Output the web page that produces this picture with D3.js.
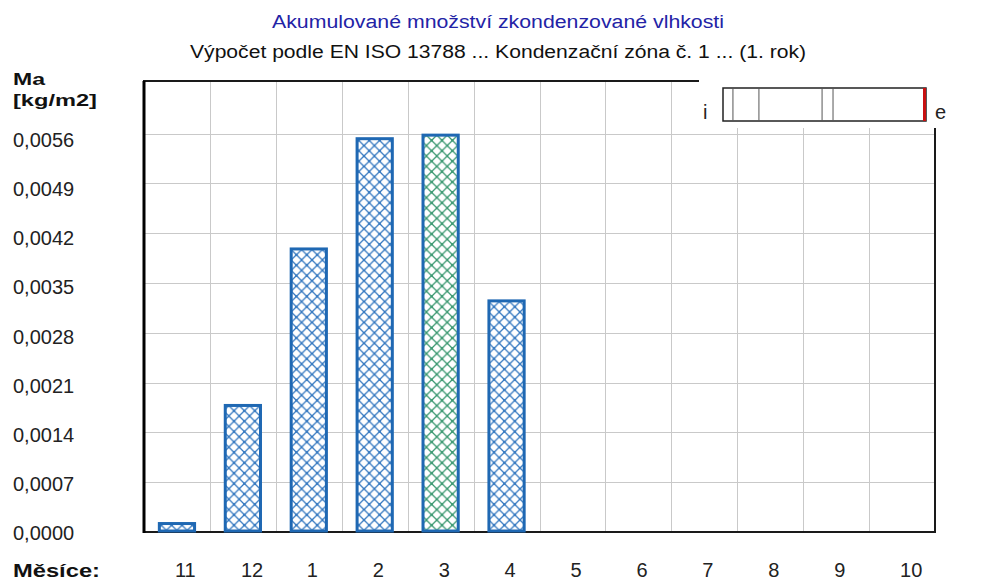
<!DOCTYPE html>
<html>
<head>
<meta charset="utf-8">
<script src="https://cdn.jsdelivr.net/npm/d3@7"></script>
<style>
  body { margin: 0; background: #fff; }
  text { font-family: "Liberation Sans", Arial, sans-serif; }
</style>
</head>
<body>
<svg id="chart" width="994" height="587"></svg>
<script>
// Accumulated condensed moisture per month (kg/m2), condensation zone 1, year 1
const months = ['11', '12', '1', '2', '3', '4', '5', '6', '7', '8', '9', '10'];
const moisture = [0.00014, 0.0018, 0.0040, 0.00555, 0.0056, 0.00327, 0, 0, 0, 0, 0, 0];
const yTicks = [0, 0.0007, 0.0014, 0.0021, 0.0028, 0.0035, 0.0042, 0.0049, 0.0056];
const yMax = 0.00634;

const chartTitle = 'Akumulované množství zkondenzované vlhkosti';
const chartSubtitle = 'Výpočet podle EN ISO 13788 ... Kondenzační zóna č. 1 ... (1. rok)';
const yAxisName = 'Ma';
const yAxisUnit = '[kg/m2]';
const xAxisName = 'Měsíce:';

const data = months.map((m, i) => ({ month: m, value: moisture[i] }));
const peak = d3.max(moisture);

const plot = { left: 144, right: 935, top: 81, bottom: 532 };
const svg = d3.select('#chart');

const x = d3.scaleBand()
  .domain(months)
  .range([plot.left, plot.right])
  .paddingInner(0.42)
  .paddingOuter(0.21);
const step = x.step();

const y = d3.scaleLinear().domain([0, yMax]).range([plot.bottom, plot.top]);
// label baselines sit slightly lower than their grid lines, more so toward the top
const yLabel = d3.scaleLinear().domain([0, 0.0056]).range([540, 147]);

const czech = d3.formatLocale({ decimal: ',', thousands: ' ', grouping: [3], currency: ['', ' Kč'] });
const fmt = czech.format('.4f');

// cross-hatch fills
const defs = svg.append('defs');
function hatch(id, color) {
  const P = 10.4;
  const p = defs.append('pattern')
    .attr('id', id)
    .attr('patternUnits', 'userSpaceOnUse')
    .attr('width', P).attr('height', P);
  p.append('rect').attr('width', P).attr('height', P).attr('fill', '#fff');
  p.append('path')
    .attr('d', `M0,0L${P},${P}M${P},0L0,${P}`)
    .attr('stroke', color).attr('stroke-width', 1.3).attr('fill', 'none');
  [[P / 2, P / 2], [0, 0], [P, 0], [0, P], [P, P]].forEach(([cx, cy]) =>
    p.append('circle').attr('cx', cx).attr('cy', cy).attr('r', 1.2).attr('fill', color));
}
hatch('hatchBlue', '#3478c0');
hatch('hatchGreen', '#3a9870');

// titles
svg.append('text')
  .attr('x', 498).attr('y', 28)
  .attr('text-anchor', 'middle')
  .attr('font-size', 18)
  .attr('fill', '#2323a6')
  .attr('textLength', 452).attr('lengthAdjust', 'spacingAndGlyphs')
  .text(chartTitle);
svg.append('text')
  .attr('x', 498).attr('y', 58)
  .attr('text-anchor', 'middle')
  .attr('font-size', 18)
  .attr('fill', '#111')
  .attr('textLength', 616).attr('lengthAdjust', 'spacingAndGlyphs')
  .text(chartSubtitle);

// grid
const grid = svg.append('g').attr('stroke', '#c9c9c9').attr('stroke-width', 1);
grid.selectAll('line.h')
  .data(yTicks.filter(t => t > 0))
  .join('line')
  .attr('x1', plot.left).attr('x2', plot.right)
  .attr('y1', d => Math.round(y(d)) + 0.5).attr('y2', d => Math.round(y(d)) + 0.5);
grid.selectAll('line.v')
  .data(months.slice(1))
  .join('line')
  .attr('x1', d => Math.round(x(d) - x.paddingInner() * step / 2) + 0.5)
  .attr('x2', d => Math.round(x(d) - x.paddingInner() * step / 2) + 0.5)
  .attr('y1', plot.top).attr('y2', plot.bottom);

// frame
svg.append('rect')
  .attr('x', plot.left).attr('y', plot.top)
  .attr('width', plot.right - plot.left).attr('height', plot.bottom - plot.top)
  .attr('fill', 'none').attr('stroke', '#1a1a1a').attr('stroke-width', 2);
svg.append('line')
  .attr('x1', plot.left).attr('x2', plot.left)
  .attr('y1', plot.top).attr('y2', plot.bottom + 1)
  .attr('stroke', '#000').attr('stroke-width', 3);

// bars
svg.append('g').selectAll('rect')
  .data(data.filter(d => d.value > 0))
  .join('rect')
  .attr('x', d => x(d.month) + 1.5)
  .attr('y', d => y(d.value) + 1.5)
  .attr('width', x.bandwidth() - 3)
  .attr('height', d => y(0) - y(d.value) - 2.5)
  .attr('fill', d => d.value === peak ? 'url(#hatchGreen)' : 'url(#hatchBlue)')
  .attr('stroke', '#1f68b3')
  .attr('stroke-width', 3);

// y tick labels
svg.append('g').selectAll('text')
  .data(yTicks)
  .join('text')
  .attr('x', 13)
  .attr('y', d => yLabel(d))
  .attr('font-size', 20)
  .attr('fill', '#222')
  .text(d => fmt(d));

// month labels
svg.append('g').selectAll('text')
  .data(months)
  .join('text')
  .attr('x', d => x(d) + x.bandwidth() / 2 - 2)
  .attr('y', 577)
  .attr('font-size', 20)
  .attr('fill', '#222')
  .text(d => d);

// axis names
const boldFamily = '"DejaVu Sans", Verdana, sans-serif';
svg.append('text').attr('x', 13).attr('y', 85)
  .attr('font-family', boldFamily).attr('font-weight', 'bold')
  .attr('font-size', 17).attr('fill', '#111')
  .attr('textLength', 32).attr('lengthAdjust', 'spacingAndGlyphs')
  .text(yAxisName);
svg.append('text').attr('x', 13).attr('y', 106)
  .attr('font-family', boldFamily).attr('font-weight', 'bold')
  .attr('font-size', 17).attr('fill', '#111')
  .attr('textLength', 84).attr('lengthAdjust', 'spacingAndGlyphs')
  .text(yAxisUnit);
svg.append('text').attr('x', 13).attr('y', 577)
  .attr('font-family', boldFamily).attr('font-weight', 'bold')
  .attr('font-size', 18).attr('fill', '#111')
  .attr('textLength', 87).attr('lengthAdjust', 'spacingAndGlyphs')
  .text(xAxisName);

// construction sketch in the upper right corner (interior i, exterior e)
svg.append('rect')
  .attr('x', 699).attr('y', 64).attr('width', 260).attr('height', 64)
  .attr('fill', '#fff');
const sketch = { x: 723, y: 88, w: 203, h: 33 };
svg.append('rect')
  .attr('x', sketch.x).attr('y', sketch.y).attr('width', sketch.w).attr('height', sketch.h)
  .attr('fill', '#fff').attr('stroke', '#222').attr('stroke-width', 1.5);
const layerX = d3.scaleLinear().domain([0, 1]).range([sketch.x, sketch.x + sketch.w]);
svg.append('g').selectAll('line')
  .data([0.049, 0.177, 0.488, 0.542])
  .join('line')
  .attr('x1', d => layerX(d)).attr('x2', d => layerX(d))
  .attr('y1', sketch.y).attr('y2', sketch.y + sketch.h)
  .attr('stroke', '#555').attr('stroke-width', 1);
svg.append('line')
  .attr('x1', sketch.x + sketch.w - 1.5).attr('x2', sketch.x + sketch.w - 1.5)
  .attr('y1', sketch.y).attr('y2', sketch.y + sketch.h)
  .attr('stroke', '#c81010').attr('stroke-width', 3);
svg.append('text').attr('x', 703).attr('y', 119).attr('font-size', 20).attr('fill', '#222').text('i');
svg.append('text').attr('x', 935).attr('y', 119).attr('font-size', 20).attr('fill', '#222').text('e');
</script>
</body>
</html>
